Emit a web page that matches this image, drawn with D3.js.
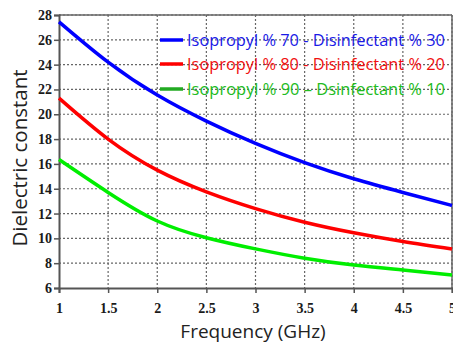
<!DOCTYPE html>
<html>
<head>
<meta charset="utf-8">
<script src="https://cdn.jsdelivr.net/npm/d3@7"></script>
<style>
  body { margin: 0; background: #fff; }
  svg { display: block; }
</style>
</head>
<body>
<svg id="chart" width="453" height="349"></svg>
<script>
// frequency points (GHz)
const freq = [1, 1.5, 2, 2.5, 3, 3.5, 4, 4.5, 5];
// dielectric constant
const iso70 = [27.45, 24.2, 21.55, 19.45, 17.65, 16.1, 14.8, 13.7, 12.65];
const iso80 = [21.3, 18.0, 15.5, 13.75, 12.4, 11.3, 10.45, 9.75, 9.15];
const iso90 = [16.35, 13.7, 11.4, 10.05, 9.15, 8.4, 7.85, 7.45, 7.05];
const seriesNames = [
  "Isopropyl % 70 - Disinfectant % 30",
  "Isopropyl % 80 - Disinfectant % 20",
  "Isopropyl % 90 \u2013 Dsinfectant % 10"
];
const xTicks = [1, 1.5, 2, 2.5, 3, 3.5, 4, 4.5, 5];
const yTicks = [6, 8, 10, 12, 14, 16, 18, 20, 22, 24, 26, 28];

const series = [
  { name: seriesNames[0], values: iso70, line: "#0000ff", text: "#1a1ae6", key: "#0000ff" },
  { name: seriesNames[1], values: iso80, line: "#ff0000", text: "#f01010", key: "#ff0000" },
  { name: seriesNames[2], values: iso90, line: "#00ee00", text: "#22bb22", key: "#22aa22" }
];

const svg = d3.select("#chart");
const margin = { top: 15, right: 1, bottom: 61, left: 59 };
const width = 453 - margin.left - margin.right;
const height = 349 - margin.top - margin.bottom;

const x = d3.scaleLinear().domain([1, 5]).range([0, width]);
const y = d3.scaleLinear().domain([6, 28]).range([height, 0]);

const g = svg.append("g")
  .attr("transform", "translate(" + margin.left + "," + margin.top + ")");

// grid
g.append("g")
  .selectAll("line")
  .data(yTicks.slice(1))
  .enter().append("line")
  .attr("x1", 0).attr("x2", width)
  .attr("y1", d => y(d)).attr("y2", d => y(d))
  .attr("stroke", "#666").attr("stroke-width", 1.2)
  .attr("stroke-dasharray", "2,2");

g.append("g")
  .selectAll("line")
  .data(xTicks.slice(1))
  .enter().append("line")
  .attr("x1", d => x(d)).attr("x2", d => x(d))
  .attr("y1", 0).attr("y2", height)
  .attr("stroke", "#666").attr("stroke-width", 1.2)
  .attr("stroke-dasharray", "2,2");

// frame top / right
g.append("line").attr("x1", 0).attr("x2", width).attr("y1", 0).attr("y2", 0)
  .attr("stroke", "#666").attr("stroke-width", 1.5);
g.append("line").attr("x1", width).attr("x2", width).attr("y1", 0).attr("y2", height)
  .attr("stroke", "#666").attr("stroke-width", 1.5);

// axes
const xAxis = g.append("g")
  .attr("transform", "translate(0," + height + ")")
  .call(d3.axisBottom(x).tickValues(xTicks).tickSize(5).tickPadding(10).tickFormat(d3.format("")));
const yAxis = g.append("g")
  .call(d3.axisLeft(y).tickValues(yTicks).tickSize(5).tickPadding(2));

[xAxis, yAxis].forEach(a => {
  a.select(".domain").attr("stroke", "#555").attr("stroke-width", 2);
  a.selectAll(".tick line").attr("stroke", "#555").attr("stroke-width", 1.5);
  a.selectAll("text")
    .attr("fill", "#1a1a1a")
    .style("font-family", "'Liberation Serif', serif")
    .style("font-weight", "bold")
    .style("font-size", "14px");
});

// curves
const line = d3.line()
  .x((d, i) => x(freq[i]))
  .y(d => y(d))
  .curve(d3.curveNatural);

g.selectAll(".curve")
  .data(series)
  .enter().append("path")
  .attr("class", "curve")
  .attr("fill", "none")
  .attr("stroke", d => d.line)
  .attr("stroke-width", 3.5)
  .attr("d", d => line(d.values));

// legend
const legendRows = [39, 63, 88];
const legend = svg.append("g");
series.forEach((s, i) => {
  legend.append("line")
    .attr("x1", 160).attr("x2", 183)
    .attr("y1", legendRows[i] + 1).attr("y2", legendRows[i] + 1)
    .attr("stroke", s.key).attr("stroke-width", 3.5);
  legend.append("text")
    .attr("x", 187).attr("y", legendRows[i] + 7)
    .attr("fill", s.text)
    .attr("textLength", 258)
    .attr("lengthAdjust", "spacingAndGlyphs")
    .style("font-family", "'Open Sans', sans-serif")
    .style("font-size", "17px")
    .text(s.name);
});

// axis titles
svg.append("text")
  .attr("x", 253).attr("y", 338)
  .attr("text-anchor", "middle")
  .attr("fill", "#222")
  .style("font-family", "'Open Sans', sans-serif")
  .style("font-size", "19px")
  .text("Frequency (GHz)");

svg.append("text")
  .attr("transform", "translate(27,158) rotate(-90)")
  .attr("text-anchor", "middle")
  .attr("fill", "#222")
  .style("font-family", "'Open Sans', sans-serif")
  .style("font-size", "20.5px")
  .text("Dielectric constant");
</script>
</body>
</html>
